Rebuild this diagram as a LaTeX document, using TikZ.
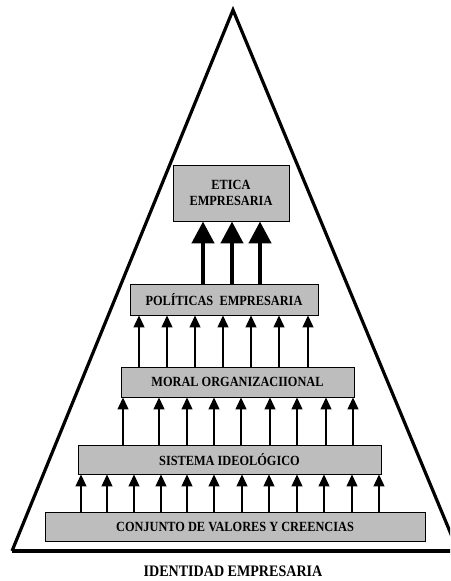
\documentclass[tikz,border=0pt]{standalone}
\usepackage{fontspec}
\setmainfont{Liberation Serif}
\newfontfamily\labelfont[FakeStretch=0.88]{Liberation Serif}
\usetikzlibrary{arrows.meta}

\begin{document}
\begin{tikzpicture}[x=1pt,y=-1pt,
  level/.style={draw=black, line width=0.9pt, fill=black!26, inner sep=0pt,
    font=\labelfont\fontsize{14}{15.5}\selectfont\bfseries, align=center},
  thinarrow/.style={line width=1.2pt, -{Triangle[length=12pt,width=11pt]}},
  thickarrow/.style={line width=4.5pt, -{Triangle[length=22pt,width=22pt]}},
  outline/.style={line width=3.2pt, line join=miter}
]
\useasboundingbox (0,0) rectangle (450,581);
\clip (0,0) rectangle (450,581);

% enclosing triangle and its base
\coordinate (apex) at (233,10);
\coordinate (bl) at (12,551);
\coordinate (br) at (458,551);
\draw[outline] (bl) -- (apex) -- (br);
\draw[line width=4pt] (bl) -- (br);

% the five levels
\node[level, minimum width=116pt, minimum height=56pt] (etica) at (231,193) {ETICA\\EMPRESARIA};
\node[level, minimum width=188pt, minimum height=31pt] (pol) at (224,299.5) {POLÍTICAS\hspace{0.45em}EMPRESARIA};
\node[level, minimum width=233pt, minimum height=30pt] (moral) at (237.5,382) {MORAL ORGANIZACIIONAL};
\node[level, minimum width=303pt, minimum height=29pt] (sis) at (229.5,459.5) {SISTEMA IDEOLÓGICO};
\node[level, minimum width=380pt, minimum height=29pt] (conj) at (235,526.5) {CONJUNTO DE VALORES Y CREENCIAS};

% connectors between levels
\foreach \x in {81,107,134,161,187,214,242,269,297,324,352,379}
  \draw[thinarrow] (\x,0 |- conj.north) -- (\x,0 |- sis.south);
\foreach \x in {123,159,187,214,241,270,297,326,353}
  \draw[thinarrow] (\x,0 |- sis.north) -- (\x,0 |- moral.south);
\foreach \x in {139,167,195,223,251,279,308}
  \draw[thinarrow] (\x,0 |- moral.north) -- (\x,0 |- pol.south);
\foreach \x in {203,232,260}
  \draw[thickarrow] (\x,0 |- pol.north) -- (\x,0 |- etica.south);

% caption
\node[font=\labelfont\fontsize{16}{18}\selectfont\bfseries, inner sep=0pt, anchor=base] (title) at (233,576) {IDENTIDAD EMPRESARIA};
\end{tikzpicture}
\end{document}
